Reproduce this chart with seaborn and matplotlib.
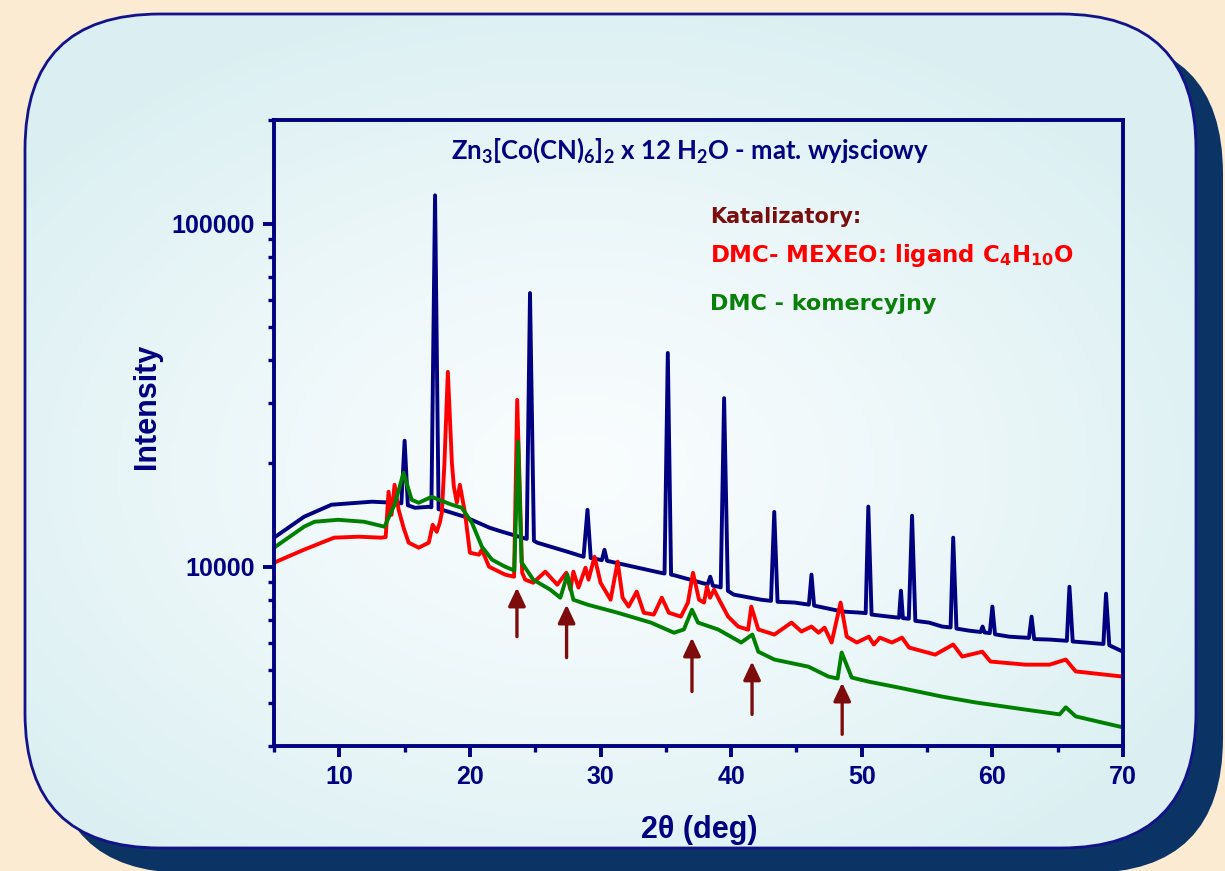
import matplotlib
matplotlib.use("Agg")
import matplotlib.pyplot as plt
import numpy as np
import seaborn as sns
from matplotlib.patches import FancyBboxPatch

# ---- values (2theta in deg, intensity in counts) ----
# Zn3[Co(CN)6]2 x 12 H2O - starting material (navy)
blue_x = [5.0, 7.3, 9.4, 12.5, 14.2, 14.75, 15.0, 15.25, 15.8, 16.85, 17.05, 17.33, 17.6,
          17.85, 19.6, 21.5, 22.3, 23.85, 24.35, 24.6, 24.9, 25.15, 27.45, 28.7, 29.0, 29.25,
          30.1, 30.3, 30.5, 32.5, 34.6, 34.9, 35.15, 35.4, 35.6, 37.7, 38.2, 38.4, 38.6, 39.0,
          39.2, 39.46, 39.75, 40.2, 42.3, 43.05, 43.3, 43.55, 44.85, 45.95, 46.15, 46.35, 48.5,
          50.0, 50.3, 50.5, 50.75, 52.1, 52.85, 53.0, 53.15, 53.6, 53.85, 54.1, 55.15, 56.15,
          56.8, 57.0, 57.25, 58.2, 59.1, 59.25, 59.4, 59.8, 60.0, 60.2, 61.3, 62.8, 63.0, 63.2,
          64.4, 65.7, 65.9, 66.15, 67.15, 68.5, 68.7, 68.95, 70.0]
blue_y = [12150, 13980, 15160, 15470, 15360, 15300, 23300, 15100, 14850, 14950, 14900, 121000, 14700,
          14660, 13980, 12990, 12700, 12200, 12050, 62800, 11900, 11750, 11060, 10690, 14650, 10600,
          10450, 11200, 10400, 10000, 9600, 9550, 42000, 9480, 9450, 8980, 8880, 9350, 8800, 8745,
          8700, 31000, 8500, 8290, 8010, 7950, 14450, 7900, 7860, 7750, 9480, 7700, 7400,
          7340, 7320, 14970, 7250, 7150, 7100, 8510, 7080, 7050, 14080, 6950, 6870, 6690,
          6650, 12150, 6600, 6510, 6450, 6690, 6430, 6400, 7650, 6350, 6250, 6200, 7150, 6150,
          6130, 6080, 8740, 6050, 6010, 5950, 8340, 5900, 5650]

# DMC - MEXEO (red)
red_x = [5.0, 7.3, 9.6, 11.5, 13.2, 13.55, 13.77, 14.0, 14.23, 14.54, 14.92, 15.31, 16.08, 16.85,
         17.15, 17.46, 17.69, 17.85, 18.05, 18.31, 18.62, 18.77, 19.0, 19.23, 19.62, 20.0, 20.69,
         20.92, 21.46, 22.69, 23.38, 23.62, 24.0, 24.23, 24.85, 25.77, 26.69, 27.38, 27.69, 27.92,
         28.31, 28.85, 29.08, 29.54, 30.0, 30.77, 31.31, 31.69, 32.15, 32.77, 33.31, 34.08, 34.69,
         35.23, 36.15, 36.69, 37.08, 37.54, 37.92, 38.15, 38.38, 38.69, 39.08, 39.77, 40.54, 41.3,
         41.54, 42.08, 43.31, 44.62, 45.38, 46.15, 46.69, 47.15, 47.69, 48.38, 48.85, 49.62, 50.54,
         50.92, 51.38, 52.31, 53.08, 53.62, 55.62, 57.0, 57.69, 59.23, 59.85, 62.54, 64.38, 65.62,
         66.38, 70.0]
red_y = [10270, 11210, 12150, 12230, 12150, 12200, 16540, 14170, 17330, 14660, 12990, 11750, 11360, 11750,
         13250, 12640, 13430, 14360, 20090, 36980, 20090, 17100, 15360, 17330, 14360, 10980, 10840,
         11210, 10000, 9480, 9350, 30640, 9600, 9165, 8980, 9670, 8860, 9600, 8570, 9670,
         8690, 9930, 9165, 10690, 8980, 8010, 10340, 8120, 7650, 8460, 7340, 7250, 8120,
         7340, 7150, 7860, 9600, 8010, 7860, 8745, 8120, 8570, 8010, 7150, 6690, 6550,
         7650, 6560, 6340, 6870, 6470, 6690, 6420, 6640, 6010, 7860, 6250, 6010, 6250,
         5930, 6210, 6010, 6210, 5810, 5540, 5930, 5470, 5650, 5290, 5180, 5180, 5360,
         4950, 4780]

# DMC - commercial (green)
green_x = [5.0, 7.3, 8.1, 9.9, 11.9, 13.46, 14.23, 14.92, 15.54, 16.08, 17.08, 17.62, 18.62, 19.38,
           20.15, 20.92, 21.69, 22.69, 23.4, 23.69, 23.95, 24.85, 26.15, 26.92, 27.46, 27.92, 29.0,
           31.31, 33.85, 35.62, 36.38, 37.0, 37.46, 39.0, 40.77, 41.62, 42.08, 43.31, 45.92, 47.46,
           48.15, 48.46, 49.23, 50.54, 52.85, 56.15, 58.69, 62.54, 65.15, 65.62, 66.38, 70.0]
green_y = [11360, 13080, 13520, 13700, 13520, 13080, 15160, 18780, 15670, 15360, 15990, 15670, 15160, 14850,
           13430, 11430, 10480, 10000, 9750, 23120, 10300, 9165, 8570, 8120, 9480, 8010, 7750,
           7340, 6870, 6420, 6560, 7490, 6870, 6560, 6010, 6340, 5650, 5360, 5110, 4780,
           4720, 5620, 4750, 4620, 4440, 4180, 4020, 3830, 3710, 3890, 3660, 3400]

# arrows marking the catalyst reflections: position, tip and tail intensity
arrow_x = [23.6, 27.4, 37.0, 41.6, 48.5]
arrow_tip = [8690, 7750, 6210, 5290, 4590]
arrow_tail = [6250, 5430, 4325, 3710, 3245]

x_ticks = [10, 20, 30, 40, 50, 60, 70]
x_minor = [5, 15, 25, 35, 45, 55, 65]
y_ticks = [10000, 100000]
y_labels = ["10000", "100000"]

NAVY = "#000080"
W, H = 1225, 871

sns.set_style("ticks")
plt.rcParams["font.family"] = ["Liberation Sans", "DejaVu Sans"]
plt.rcParams["mathtext.default"] = "regular"

fig = plt.figure(figsize=(W / 100, H / 100), dpi=100)
fig.patch.set_facecolor("#fbebd3")

# ---- decorative backdrop: rounded panel with a shadow ----
bg = fig.add_axes([0, 0, 1, 1], zorder=0)
bg.set_xlim(0, W)
bg.set_ylim(H, 0)
bg.axis("off")

bx, by, bw, bh, rad = 25, 14, 1171, 834, 135
shadow = FancyBboxPatch((bx + 27, by + 25), bw, bh, boxstyle=f"round,pad=0,rounding_size={rad}",
                        facecolor="#0b3464", edgecolor="none", zorder=1)
bg.add_patch(shadow)
panel = FancyBboxPatch((bx, by), bw, bh, boxstyle=f"round,pad=0,rounding_size={rad}",
                       facecolor="#ddeff2", edgecolor="none", zorder=2)
bg.add_patch(panel)
gx, gy = np.meshgrid(np.linspace(0, W, 300), np.linspace(0, H, 220))
r = np.clip(np.hypot((gx - 580) / 700, (gy - 470) / 480), 0, 1)
edge = np.array([0.86, 0.94, 0.95])
centre = np.array([0.975, 0.99, 0.995])
grad = centre + (edge - centre) * r[..., None] ** 1.3
img = bg.imshow(grad, extent=(0, W, H, 0), origin="upper", aspect="auto", zorder=3)
img.set_clip_path(panel)
bg.add_patch(FancyBboxPatch((bx, by), bw, bh, boxstyle=f"round,pad=0,rounding_size={rad}",
                            facecolor="none", edgecolor="#12128a", lw=2, zorder=4))
bg.set_xlim(0, W)
bg.set_ylim(H, 0)

# ---- main plot ----
ax = fig.add_axes([274 / W, 1 - 746 / H, (1123 - 274) / W, (746 - 120.5) / H], zorder=1)
ax.set_facecolor("none")

for xs, ys, col in [(blue_x, blue_y, NAVY), (red_x, red_y, "#ff0000"), (green_x, green_y, "#008000")]:
    sns.lineplot(x=xs, y=ys, color=col, lw=2.8, ax=ax, estimator=None, sort=False)

for xa, yt, yb in zip(arrow_x, arrow_tip, arrow_tail):
    ax.annotate("", xy=(xa, yt), xytext=(xa, yb),
                arrowprops=dict(arrowstyle="-|>,head_length=0.55,head_width=0.26",
                                color="#7d0c0c", lw=2.4, mutation_scale=20, shrinkA=0, shrinkB=0))

ax.set_yscale("log")
ax.set_xlim(5, 70)
ax.set_ylim(3000, 200000)
ax.set_xticks(x_ticks)
ax.set_xticks(x_minor, minor=True)
ax.set_yticks(y_ticks, labels=y_labels)
ax.set_xlabel("")
ax.set_ylabel("")
for s in ax.spines.values():
    s.set_color(NAVY)
    s.set_linewidth(2.8)
ax.tick_params(which="major", direction="out", length=8, width=2.8, color=NAVY,
               labelcolor=NAVY, labelsize=18, pad=6)
ax.tick_params(which="minor", direction="out", length=4.5, width=2.4, color=NAVY)
ax.tick_params(axis="y", which="minor", labelleft=False)
for lab in ax.get_xticklabels() + ax.get_yticklabels():
    lab.set_fontweight("bold")

# ---- texts ----
bg.text(147, 406, "Intensity", rotation=90, ha="center", va="center", fontsize=22,
        fontweight="bold", color=NAVY, zorder=5)
bg.text(699, 830, "2θ (deg)", ha="center", va="center", fontsize=22,
        fontweight="bold", color=NAVY, zorder=5)
bg.text(690, 159, r"Zn$_3$[Co(CN)$_6$]$_2$ x 12 H$_2$O - mat. wyjsciowy", ha="center",
        va="baseline", fontsize=18.5, fontweight="bold", family="Lato", color=NAVY, zorder=5)
bg.text(710, 223, "Katalizatory:", ha="left", va="baseline", fontsize=15, fontweight="bold",
        family="DejaVu Sans", color="#7a0e0e", zorder=5)
bg.text(710, 262, r"DMC- MEXEO: ligand C$_4$H$_{10}$O", ha="left", va="baseline", fontsize=16.5,
        fontweight="bold", family="DejaVu Sans", color="#ff0000", zorder=5)
bg.text(710, 310, "DMC - komercyjny", ha="left", va="baseline", fontsize=16, fontweight="bold",
        family="DejaVu Sans", color="#0a800a", zorder=5)

fig.savefig("out.png", dpi=100, facecolor=fig.get_facecolor())
